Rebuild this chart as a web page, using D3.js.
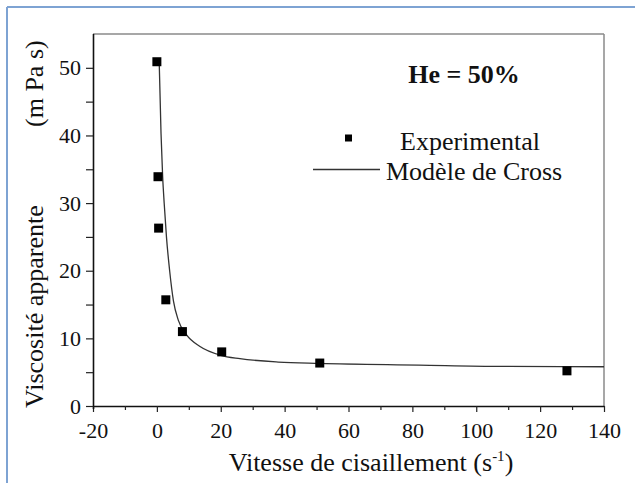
<!DOCTYPE html>
<html>
<head>
<meta charset="utf-8">
<script src="https://cdn.jsdelivr.net/npm/d3@7"></script>
<style>
  html, body { margin: 0; padding: 0; background: #fff; }
  svg { display: block; }
  text { font-family: "Liberation Serif", "Times New Roman", serif; fill: #111; }
</style>
</head>
<body>
<svg id="chart" width="635" height="483"></svg>
<script>
// Measured shear rates (s^-1) and apparent viscosities (mPa s)
const shearRate = [0, 0.35, 0.55, 2.8, 8, 20.3, 51, 128.4];
const viscosity = [50.9, 33.9, 26.3, 15.7, 11.0, 8.0, 6.35, 5.2];

// Cross model fit, sampled along the curve
const modelRate = [0.75, 1.3, 1.8, 2.3, 3.0, 4.0, 5.2, 6.7, 9.3, 13.5, 20, 26, 38, 51, 82, 108, 140];
const modelVisc = [50.5, 40.3, 34.0, 29.9, 25.0, 20.0, 15.5, 12.7, 10.5, 8.8, 7.5, 7.0, 6.5, 6.3, 6.05, 5.85, 5.8];

const xMajorTicks = [-20, 0, 20, 40, 60, 80, 100, 120, 140];
const xMinorTicks = [-10, 10, 30, 50, 70, 90, 110, 130];
const yMajorTicks = [0, 10, 20, 30, 40, 50];
const yMinorTicks = [5, 15, 25, 35, 45];

const svg = d3.select("#chart");
const plotLeft = 93, plotRight = 604, plotTop = 34, plotBottom = 406;

const x = d3.scaleLinear().domain([-20, 140]).range([plotLeft, plotRight]);
const y = d3.scaleLinear().domain([0, 55]).range([plotBottom, plotTop]);

// plain hyphen for negative numbers
const fmt = d => String(d);

// Page frame
svg.append("line").attr("x1", 7).attr("x2", 635).attr("y1", 7).attr("y2", 7)
  .attr("stroke", "#7ea3d3").attr("stroke-width", 2);
svg.append("line").attr("x1", 7).attr("x2", 7).attr("y1", 7).attr("y2", 483)
  .attr("stroke", "#7ea3d3").attr("stroke-width", 2);

// Plot box: top and right edges in grey
svg.append("line").attr("x1", plotLeft).attr("x2", plotRight).attr("y1", plotTop).attr("y2", plotTop)
  .attr("stroke", "#8a8a8a").attr("stroke-width", 1.5);
svg.append("line").attr("x1", plotRight).attr("x2", plotRight).attr("y1", plotTop).attr("y2", plotBottom)
  .attr("stroke", "#8a8a8a").attr("stroke-width", 1.5);

// X axis
const xAxis = svg.append("g").attr("transform", `translate(0,${plotBottom})`)
  .call(d3.axisBottom(x).tickValues(xMajorTicks).tickSize(6).tickSizeOuter(0).tickPadding(10)
    .tickFormat(fmt));
xAxis.select(".domain").attr("stroke", "#111").attr("stroke-width", 1.6);
xAxis.selectAll(".tick line").attr("stroke", "#222").attr("stroke-width", 1.2);
xAxis.selectAll(".tick text").attr("font-size", 22).attr("font-family", "Liberation Serif")
  .attr("fill", "#111").attr("dy", "0.72em");
const xMinor = svg.append("g").attr("transform", `translate(0,${plotBottom})`)
  .call(d3.axisBottom(x).tickValues(xMinorTicks).tickSize(4).tickFormat(""));
xMinor.select(".domain").remove();
xMinor.selectAll(".tick line").attr("stroke", "#222").attr("stroke-width", 1.2);

// Y axis
const yAxis = svg.append("g").attr("transform", `translate(${plotLeft},0)`)
  .call(d3.axisLeft(y).tickValues(yMajorTicks).tickSize(7).tickSizeOuter(0).tickPadding(5)
    .tickFormat(fmt));
yAxis.select(".domain").attr("stroke", "#111").attr("stroke-width", 1.6)
  .attr("d", `M0.5,${plotTop}V${plotBottom + 3}`);
yAxis.selectAll(".tick line").attr("stroke", "#222").attr("stroke-width", 1.2);
yAxis.selectAll(".tick text").attr("font-size", 22).attr("font-family", "Liberation Serif")
  .attr("fill", "#111");
const yMinor = svg.append("g").attr("transform", `translate(${plotLeft},0)`)
  .call(d3.axisLeft(y).tickValues(yMinorTicks).tickSize(7).tickFormat(""));
yMinor.select(".domain").remove();
yMinor.selectAll(".tick line").attr("stroke", "#222").attr("stroke-width", 1.2);

// Cross model curve
const model = modelRate.map((r, i) => ({ r, v: modelVisc[i] }));
svg.append("path").datum(model)
  .attr("fill", "none").attr("stroke", "#333").attr("stroke-width", 1.3)
  .attr("d", d3.line().x(d => x(d.r)).y(d => y(d.v)).curve(d3.curveMonotoneX));

// Experimental points
const pts = shearRate.map((r, i) => ({ r, v: viscosity[i] }));
const sq = 9;
svg.append("g").selectAll("rect").data(pts).join("rect")
  .attr("x", d => x(d.r) - sq / 2).attr("y", d => y(d.v) - sq / 2)
  .attr("width", sq).attr("height", sq).attr("fill", "#000");

// Title inside the plot
svg.append("text").attr("x", 464).attr("y", 83).attr("text-anchor", "middle")
  .attr("font-size", 26).attr("font-weight", "bold").text("He = 50%");

// Legend
svg.append("rect").attr("x", 345).attr("y", 134.5).attr("width", 7).attr("height", 7).attr("fill", "#000");
svg.append("text").attr("x", 400).attr("y", 150).attr("font-size", 26).text("Experimental");
svg.append("line").attr("x1", 313).attr("x2", 380).attr("y1", 169.5).attr("y2", 169.5)
  .attr("stroke", "#333").attr("stroke-width", 1.3);
svg.append("text").attr("x", 386).attr("y", 180).attr("font-size", 26).text("Modèle de Cross");

// Axis titles
const xt = svg.append("text").attr("x", 371).attr("y", 471).attr("text-anchor", "middle")
  .attr("font-size", 26);
xt.append("tspan").text("Vitesse de cisaillement (s");
xt.append("tspan").attr("font-size", 15).attr("dy", -10).text("-1");
xt.append("tspan").attr("dy", 10).text(")");

svg.append("text").attr("transform", "translate(43,408) rotate(-90)")
  .attr("font-size", 26).text("Viscosité apparente");
svg.append("text").attr("transform", "translate(43,127) rotate(-90)")
  .attr("font-size", 26).text("(m Pa s)");
</script>
</body>
</html>
